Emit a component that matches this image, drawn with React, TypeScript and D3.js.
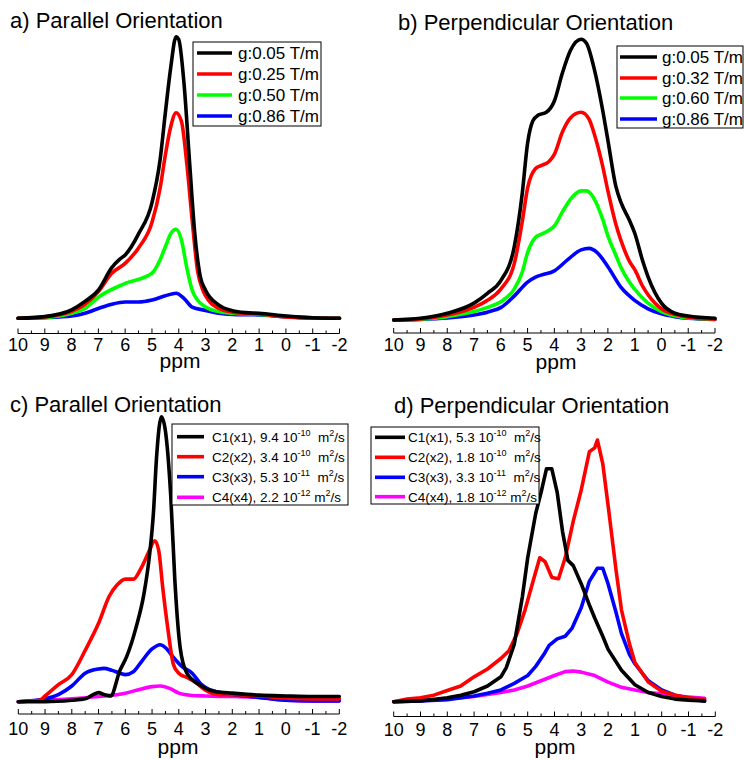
import React from "react";
import * as d3 from "d3";

type Pt = [number, number];

// ---------- tick labels ----------
const ppmTicks = [10, 9, 8, 7, 6, 5, 4, 3, 2, 1, 0, -1, -2];
const ppmMinorTicks = [9.5, 8.5, 7.5, 6.5, 5.5, 4.5, 3.5, 2.5, 1.5, 0.5, -0.5, -1.5];

// ---------- panel a: parallel, gradient series ----------
const aLabels = ["g:0.05 T/m", "g:0.25 T/m", "g:0.50 T/m", "g:0.86 T/m"];
const aBlack: Pt[] = [[10,0],[9,0.6],[8,3],[7.5,6],[7,10],[6.5,18],[6.2,21],[6,22.5],[5.5,30],[5,41],[4.7,56],[4.5,73],[4.3,89],[4.1,100],[4.0,99],[3.8,83],[3.6,56],[3.4,30],[3.2,15],[3.0,10],[2.5,4.7],[2,2.7],[1.5,2],[1,1.8],[0,0.8],[-1,0.2],[-2,0]];
const aRed: Pt[] = [[10,0],[9,0.5],[8,2.5],[7.5,5],[7,9.5],[6.5,16],[6,19.5],[5.5,25],[5,34],[4.7,46],[4.5,58],[4.3,68],[4.1,73],[3.9,70],[3.7,55],[3.5,35],[3.3,17],[3.1,10],[3,8],[2.5,3.5],[2,2.2],[1,1.5],[0,0.5],[-1,0],[-2,0]];
const aGreen: Pt[] = [[10,0],[9,0.3],[8,1.8],[7.5,3.5],[7,7.5],[6,12.4],[5,16],[4.7,20.7],[4.5,25.4],[4.3,30],[4.1,31.6],[3.9,27.8],[3.7,18],[3.5,10],[3.3,6.5],[3,4],[2.5,2.4],[2,1.8],[1,1.4],[0,0.6],[-1,0.1],[-2,0]];
const aBlue: Pt[] = [[10,0],[9,0.2],[8,0.8],[7.5,1.8],[7,3.5],[6.5,5],[6,5.8],[5.5,5.8],[5,6.5],[4.5,8],[4.1,8.9],[3.8,7],[3.5,4],[3,2.8],[2.5,1.8],[2,1.4],[1,1.2],[0,0.6],[-1,0.2],[-2,0]];

// ---------- panel b: perpendicular, gradient series ----------
const bLabels = ["g:0.05 T/m", "g:0.32 T/m", "g:0.60 T/m", "g:0.86 T/m"];
const bBlack: Pt[] = [[10,0],[9,0.6],[8,2.4],[7,6],[6.5,9.5],[6,14],[5.5,26],[5.2,45],[5,63],[4.8,71],[4.6,73],[4.3,74],[4,78],[3.7,88],[3.4,96],[3.0,100],[2.8,98.6],[2.5,89],[2.2,75],[2,64],[1.7,47.5],[1.5,41.6],[1.2,35.6],[1,31],[0.7,21],[0.5,15.4],[0,6],[-0.5,2.4],[-1,1.4],[-2,0.6]];
const bRed: Pt[] = [[10,0],[9,0.4],[8,1.8],[7,4.5],[6.5,7],[6,11],[5.5,20],[5.2,35],[5,47],[4.7,54],[4.5,55],[4.2,56.5],[4,59],[3.7,67],[3.4,72],[3.0,74],[2.7,71.5],[2.5,66],[2.2,55],[2,46],[1.7,34],[1.5,28],[1.2,21],[1,18],[0.7,12],[0.5,9],[0,4],[-0.5,2],[-1,1],[-2,0.3]];
const bGreen: Pt[] = [[10,0],[9,0.3],[8,1.2],[7,3],[6.5,4.5],[6,6.5],[5.5,11],[5.2,17],[5,24],[4.7,29.5],[4.5,30.5],[4.2,32],[4,33.5],[3.7,38.5],[3.4,43],[3.0,46],[2.8,46],[2.5,43],[2.2,36],[2,30],[1.7,23],[1.5,18.5],[1.2,13.5],[1,11],[0.5,6],[0,3],[-0.5,1.5],[-1,0.7],[-2,0.3]];
const bBlue: Pt[] = [[10,0],[9,0.2],[8,0.7],[7,1.8],[6.5,2.8],[6,4.4],[5.5,8.5],[5,13.5],[4.7,15.3],[4.5,16],[4,17.5],[3.5,21.5],[3,25],[2.7,25.5],[2.4,24],[2,19],[1.5,11.5],[1,7],[0.5,4],[0,2.2],[-0.5,1.2],[-1,0.6],[-2,0.2]];

// ---------- panel c: parallel, components ----------
const cNames = ["C1(x1), 9.4 10", "C2(x2), 3.4 10", "C3(x3), 5.3 10", "C4(x4), 2.2 10"];
const cExps = ["-10", "-10", "-11", "-12"];
const cBlack: Pt[] = [[10,0],[9,0],[8,0.5],[7.5,1],[7.2,2.5],[7,3.2],[6.8,2.5],[6.55,2],[6.2,11],[5.95,15.8],[5.6,26],[5.3,38],[5.1,51],[4.95,66],[4.83,86],[4.65,100],[4.5,95],[4.3,72],[4.15,43],[3.95,19],[3.7,10],[3.2,5.8],[2.6,3.5],[2,3],[1,2.3],[0,2],[-1,1.8],[-2,1.8]];
const cRed: Pt[] = [[10,0],[9.2,0.5],[9,2],[8.5,6],[8,9.5],[7.5,18],[7,27.5],[6.6,37],[6.3,41],[6,43],[5.7,43],[5.4,47],[5.1,53],[4.9,56.5],[4.75,53],[4.6,40],[4.4,25],[4.2,13],[4,10],[3.7,8.5],[3.4,7],[3,4],[2.5,2.5],[2,2.5],[1,2],[0,1.3],[-1,1],[-2,1]];
const cBlue: Pt[] = [[10,0],[9,1],[8.5,2.5],[8,5.5],[7.5,10],[7,11.5],[6.8,11.7],[6.5,11],[6.2,10],[6,9.5],[5.7,10.5],[5.4,14],[5,18.5],[4.7,20],[4.5,19],[4.2,15.5],[3.9,12.5],[3.5,10],[3.2,6.5],[3,5],[2.5,3.3],[2,2.5],[1,1.5],[0,0.5],[-1,0.3],[-2,0.3]];
const cMagenta: Pt[] = [[10,0],[9,0.5],[8,1],[7,1.8],[6,3],[5.5,4.2],[5,5.3],[4.7,5.5],[4.3,4.5],[4,3],[3.5,2.2],[3,2],[2,1.8],[1,1.5],[0,0.5],[-1,0.3],[-2,0.3]];

// ---------- panel d: perpendicular, components ----------
const dNames = ["C1(x1), 5.3 10", "C2(x2), 1.8 10", "C3(x3), 3.3 10", "C4(x4), 1.8 10"];
const dExps = ["-10", "-10", "-11", "-12"];
const dBlack: Pt[] = [[10,0],[9,0.3],[8,1.5],[7.5,2.5],[7,3.8],[6.5,6],[6,9.5],[5.8,13],[5.5,22],[5.2,40],[5,55],[4.7,72],[4.5,80],[4.3,89],[4.1,89],[3.9,80],[3.7,65],[3.5,54],[3.3,52],[3,45],[2.7,37],[2.5,32],[2.2,25],[2,20],[1.5,12],[1,6.5],[0.5,3.5],[0,2],[-0.5,1],[-1,0.6],[-1.6,0.3]];
const dRed: Pt[] = [[10,0],[9.5,1],[9,1.5],[8.5,2.5],[8,4.3],[7.5,6],[7,9.5],[6.5,12.5],[6,16.5],[5.7,19.5],[5.4,26],[5.1,35],[4.8,46],[4.55,55],[4.35,53.5],[4.1,47.5],[3.85,47],[3.6,55],[3.3,69],[3,81],[2.7,95.5],[2.5,97],[2.4,100],[2.2,91],[2,75],[1.7,50],[1.5,35],[1.2,22],[1,15],[0.5,7.5],[0,4],[-0.5,2.5],[-1,1.5],[-1.6,0.8]];
const dBlue: Pt[] = [[10,0],[9,0.3],[8,0.8],[7,2.2],[6.5,3.2],[6,4.5],[5.5,7],[5,10],[4.7,13.5],[4.4,18],[4.2,21.5],[3.9,24],[3.6,25],[3.35,28],[3,36],[2.7,46],[2.4,51],[2.2,51],[2,45],[1.7,34],[1.5,26],[1.2,18],[1,14.5],[0.5,8],[0,4.5],[-0.5,2.5],[-1,1.3],[-1.6,0.2]];
const dMagenta: Pt[] = [[10,0],[9,0.5],[8,1],[7,2],[6,3.5],[5.5,4.5],[5,6],[4.5,8],[4,10],[3.6,11.5],[3.3,11.7],[3,11.3],[2.5,10],[2,7.5],[1.5,5.5],[1,4.5],[0.5,3.5],[0,3],[-0.5,2.3],[-1,1.8],[-1.6,1.3]];

const GRAD_COLORS = ["#000000", "#ff0000", "#00ff00", "#0000ff"];
const COMP_COLORS = ["#000000", "#ff0000", "#0000ff", "#ff00ff"];

const FONT = "Liberation Sans, Arial, Helvetica, sans-serif";

type PanelProps = {
  title: string;
  titleX: number;
  titleY: number;
  xRange: [number, number];
  axisY: number;
  yBase: number;
  yTop: number;
  tickBaseline: number;
  ppmX: number;
  ppmY: number;
  series: Pt[][];
  colors: string[];
  curve: d3.CurveFactory;
  legend: {
    box: [number, number, number, number];
    rows: number[];
    line: [number, number];
    textX: number;
    fontSize: number;
    labels: string[];
    exps?: string[];
  };
};

function Panel(p: PanelProps) {
  const x = d3.scaleLinear().domain([10, -2]).range(p.xRange);
  const y = d3.scaleLinear().domain([0, 100]).range([p.yBase, p.yTop]);
  const line = d3
    .line<Pt>()
    .x((d) => x(d[0]))
    .y((d) => y(d[1]))
    .curve(p.curve);
  const lg = p.legend;
  return (
    <g>
      <text x={p.titleX} y={p.titleY} fontSize={22} fontFamily={FONT} fill="#000">
        {p.title}
      </text>
      {p.series.map((s, i) => (
        <path
          key={i}
          d={line(s) || ""}
          fill="none"
          stroke={p.colors[i]}
          strokeWidth={3.6}
          strokeLinejoin="round"
          strokeLinecap="round"
        />
      )).reverse()}
      {/* axis */}
      <line x1={p.xRange[0]} x2={p.xRange[1]} y1={p.axisY} y2={p.axisY} stroke="#000" strokeWidth={1} />
      {ppmTicks.map((t) => (
        <g key={"M" + t}>
          <line x1={x(t)} x2={x(t)} y1={p.axisY} y2={p.axisY - 5} stroke="#000" strokeWidth={1} />
          <text x={x(t)} y={p.tickBaseline} fontSize={18} fontFamily={FONT} textAnchor="middle">
            {t}
          </text>
        </g>
      ))}
      {ppmMinorTicks.map((t) => (
        <line key={"m" + t} x1={x(t)} x2={x(t)} y1={p.axisY} y2={p.axisY - 3} stroke="#000" strokeWidth={1} />
      ))}
      <text x={p.ppmX} y={p.ppmY} fontSize={21} fontFamily={FONT} textAnchor="middle">
        ppm
      </text>
      {/* legend */}
      <rect x={lg.box[0]} y={lg.box[1]} width={lg.box[2]} height={lg.box[3]} fill="#fff" stroke="#000" strokeWidth={1} />
      {lg.labels.map((lab, i) => (
        <g key={"L" + i}>
          <line x1={lg.line[0]} x2={lg.line[1]} y1={lg.rows[i]} y2={lg.rows[i]} stroke={p.colors[i]} strokeWidth={3.6} />
          {lg.exps ? (
            <text
              x={lg.textX}
              y={lg.rows[i] + lg.fontSize * 0.36}
              fontSize={lg.fontSize}
              fontFamily={FONT}
              style={{ whiteSpace: "pre" }}
            >
              {lab}
              <tspan dy={-6} fontSize={9}>{lg.exps[i]}</tspan>
              <tspan dy={6}>{i === 3 ? " m" : "  m"}</tspan>
              <tspan dy={-6} fontSize={9}>2</tspan>
              <tspan dy={6}>/s</tspan>
            </text>
          ) : (
            <text x={lg.textX} y={lg.rows[i] + lg.fontSize * 0.36} fontSize={lg.fontSize} fontFamily={FONT}>
              {lab}
            </text>
          )}
        </g>
      ))}
    </g>
  );
}

export default function App() {
  return (
    <svg
      width={744}
      height={760}
      viewBox="0 0 744 760"
      style={{ position: "absolute", left: 0, top: 0, background: "#fff" }}
    >
      <rect x={0} y={0} width={744} height={760} fill="#fff" />
      <Panel
        title="a) Parallel Orientation"
        titleX={10}
        titleY={28}
        xRange={[18, 339.5]}
        axisY={333.5}
        yBase={318.3}
        yTop={36.7}
        tickBaseline={351}
        ppmX={180}
        ppmY={368}
        series={[aBlack, aRed, aGreen, aBlue]}
        colors={GRAD_COLORS}
        curve={d3.curveMonotoneX}
        legend={{
          box: [193, 42, 128, 84],
          rows: [53, 74, 95, 116],
          line: [197, 232],
          textX: 238,
          fontSize: 17,
          labels: aLabels,
        }}
      />
      <Panel
        title="b) Perpendicular Orientation"
        titleX={398}
        titleY={30}
        xRange={[393.7, 715]}
        axisY={333}
        yBase={320}
        yTop={39.3}
        tickBaseline={351}
        ppmX={556}
        ppmY={369}
        series={[bBlack, bRed, bGreen, bBlue]}
        colors={GRAD_COLORS}
        curve={d3.curveMonotoneX}
        legend={{
          box: [617, 46, 126, 82],
          rows: [57, 78, 98, 119],
          line: [620, 657],
          textX: 662,
          fontSize: 17,
          labels: bLabels,
        }}
      />
      <Panel
        title="c) Parallel Orientation"
        titleX={10}
        titleY={412}
        xRange={[18.3, 339.3]}
        axisY={714}
        yBase={701.7}
        yTop={416.7}
        tickBaseline={735}
        ppmX={178}
        ppmY={754}
        series={[cBlack, cRed, cBlue, cMagenta]}
        colors={COMP_COLORS}
        curve={d3.curveMonotoneX}
        legend={{
          box: [172, 424, 176, 81],
          rows: [436.7, 456.7, 476.7, 497.3],
          line: [177, 204],
          textX: 212,
          fontSize: 13.5,
          labels: cNames,
          exps: cExps,
        }}
      />
      <Panel
        title="d) Perpendicular Orientation"
        titleX={394}
        titleY={413}
        xRange={[393.7, 715.3]}
        axisY={716.5}
        yBase={701.7}
        yTop={440}
        tickBaseline={736}
        ppmX={555}
        ppmY={754}
        series={[dBlack, dRed, dBlue, dMagenta]}
        colors={COMP_COLORS}
        curve={d3.curveLinear}
        legend={{
          box: [371, 427, 168, 77],
          rows: [437.3, 457.3, 477.3, 496.7],
          line: [375, 405],
          textX: 408,
          fontSize: 13.5,
          labels: dNames,
          exps: dExps,
        }}
      />
    </svg>
  );
}
